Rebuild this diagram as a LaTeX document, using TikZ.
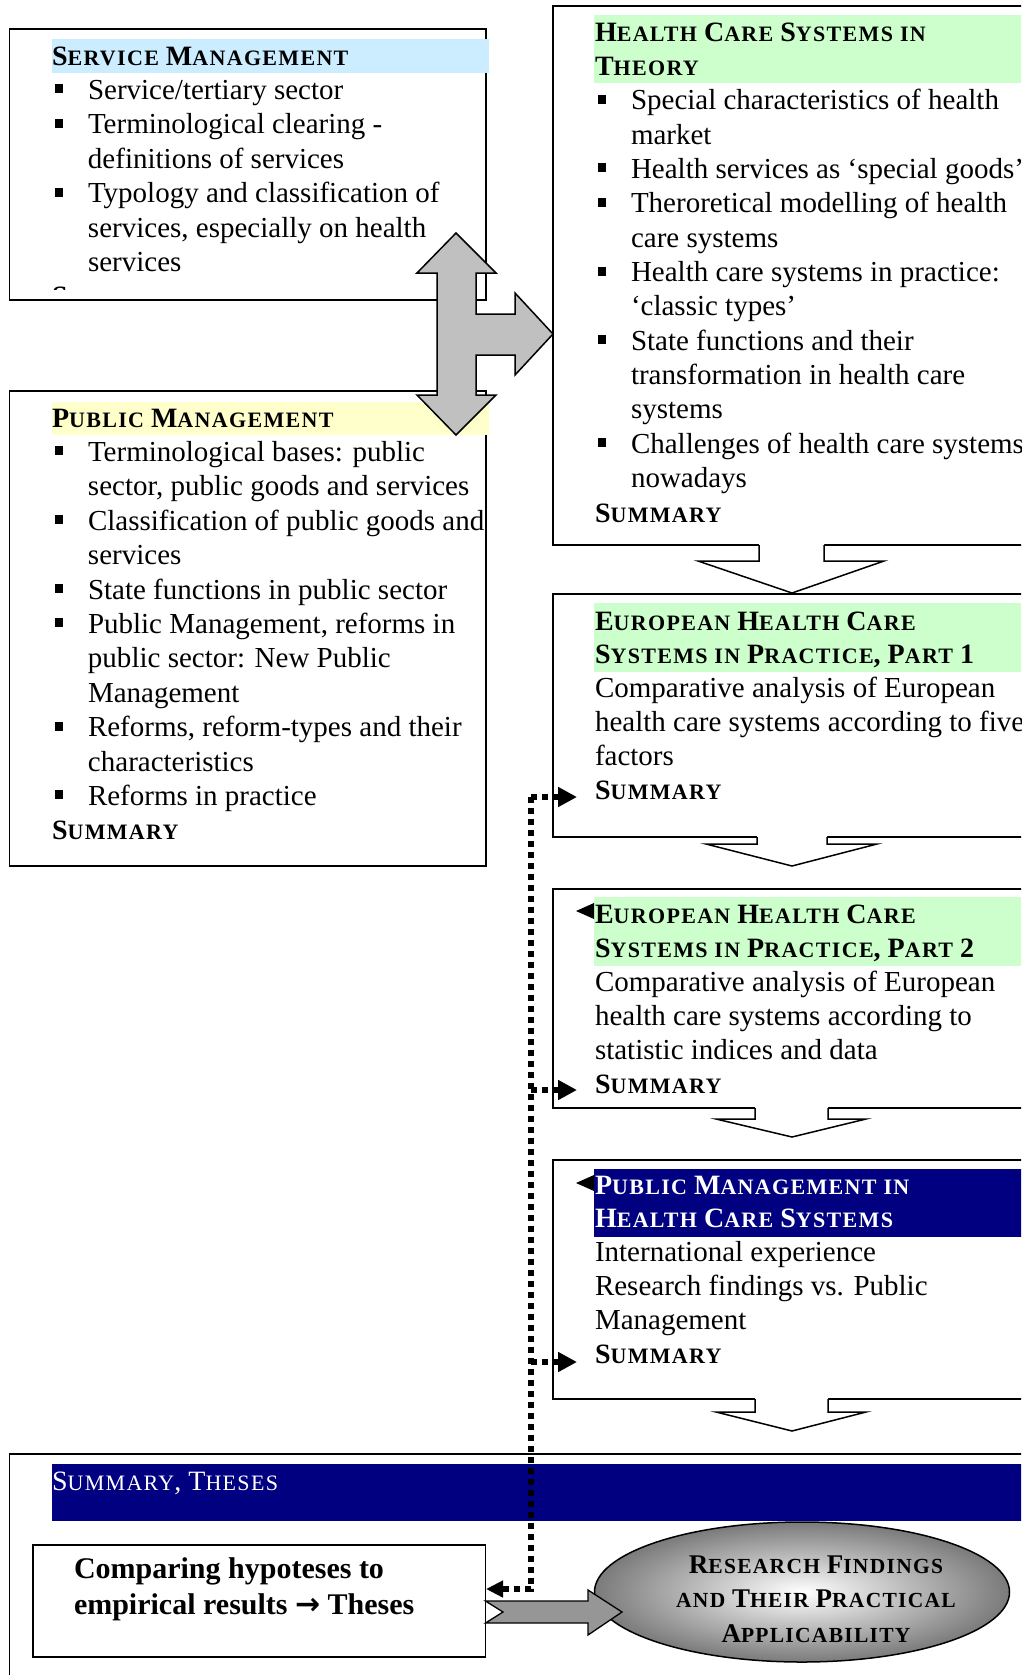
\documentclass[tikz,border=0pt]{standalone}
\usepackage{fontspec}
\setmainfont{Liberation Serif}
\newfontfamily\symfont{DejaVu Sans}
\usetikzlibrary{shapes.geometric,arrows.meta,calc}

\definecolor{hblue}{HTML}{CCECFF}
\definecolor{hgreen}{HTML}{CCFFCC}
\definecolor{hyellow}{HTML}{FFFFCC}
\definecolor{navyband}{HTML}{000080}
\definecolor{crossgray}{HTML}{C0C0C0}
\definecolor{arrgray}{HTML}{969696}

\newcommand\sC[1]{{\fontsize{22}{0}\selectfont\addfontfeature{LetterSpace=6}#1}}
\newcommand\hd[1]{{\bfseries\fontsize{28}{0}\selectfont #1}}
\newcommand\hdr[1]{{\fontsize{28}{0}\selectfont #1}}
\newcommand\bl{\makebox[36pt][l]{\hspace{3pt}\rule[6pt]{8pt}{9pt}}}
\newcommand\ind{\makebox[36pt]{}}
\newcommand\fst{\rule{0pt}{24pt}}

\tikzset{
  tbox/.style={draw, line width=1.8pt, rectangle, inner sep=0pt, outer sep=0pt, anchor=north west},
  txt/.style={anchor=north west, inner sep=0pt, outer sep=0pt, align=left},
  arrline/.style={line width=1.5pt, line join=miter},
  dotline/.style={line width=5.5pt, dash pattern=on 6pt off 5pt},
}

\begin{document}
\begin{tikzpicture}[x=1pt,y=-1pt]
\useasboundingbox (0,0) rectangle (1021,1675);
\fill[white] (0,0) rectangle (1021,1675);
\clip (0,0) rectangle (1021,1675);

% ---------- boxes ----------
\node[tbox, minimum width=476.5pt, minimum height=271pt] (service) at (9.5,29) {};
\node[tbox, minimum width=476.5pt, minimum height=475pt] (public) at (9.5,391) {};
\node[tbox, minimum width=478pt, minimum height=539pt] (theory) at (553,6) {};
\node[tbox, minimum width=478pt, minimum height=243pt] (eu1) at (553,594) {};
\node[tbox, minimum width=478pt, minimum height=219pt] (eu2) at (553,889) {};
\node[tbox, minimum width=478pt, minimum height=239pt] (pmhcs) at (553,1160) {};
\node[tbox, minimum width=1021.5pt, minimum height=240pt] (summ) at (9.5,1454) {};
\node[tbox, line width=1.5pt, minimum width=452.5pt, minimum height=112pt] (cmp) at (33,1545) {};

% ---------- header bands ----------
\fill[hblue] (52,39) rectangle (489,73);
\fill[hyellow] (52,402) rectangle (489,435);
\fill[hgreen] (594,15) rectangle (1031,83);
\fill[hgreen] (594,603) rectangle (1031,672);
\fill[hgreen] (594,897) rectangle (1031,966);
\fill[navyband] (594,1169) rectangle (1031,1237);
\fill[navyband] (52,1464) rectangle (1031,1521);

% ---------- texts ----------
\begin{scope}
\clip (0,0) rectangle (500,289.5);
\node[txt, font=\fontsize{29}{34.4}\selectfont] (servicetxt) at (52,41) {%
\fst\hd{S\sC{ERVICE} M\sC{ANAGEMENT}}\\
\bl Service/tertiary sector\\
\bl Terminological clearing -\\
\ind definitions of services\\
\bl Typology and classification of\\
\ind services, especially on health\\
\ind services\\
\hd{S\sC{UMMARY}}};
\end{scope}

\node[txt, font=\fontsize{29}{34.4}\selectfont] (publictxt) at (52,403) {%
\fst\hd{P\sC{UBLIC} M\sC{ANAGEMENT}}\\
\bl Terminological bases: public\\
\ind sector, public goods and services\\
\bl Classification of public goods and\\
\ind services\\
\bl State functions in public sector\\
\bl Public Management, reforms in\\
\ind public sector: New Public\\
\ind Management\\
\bl Reforms, reform-types and their\\
\ind characteristics\\
\bl Reforms in practice\\
\hd{S\sC{UMMARY}}};

\node[txt, font=\fontsize{29}{34.36}\selectfont] (theorytxt) at (595,17) {%
\fst\hd{H\sC{EALTH} C\sC{ARE} S\sC{YSTEMS} \sC{IN}}\\
\hd{T\sC{HEORY}}\\
\bl Special characteristics of health\\
\ind market\\
\bl Health services as ‘special goods’\\
\bl Theroretical modelling of health\\
\ind care systems\\
\bl Health care systems in practice:\\
\ind ‘classic types’\\
\bl State functions and their\\
\ind transformation in health care\\
\ind systems\\
\bl Challenges of health care systems\\
\ind nowadays\\
\hd{S\sC{UMMARY}}};

\node[txt, font=\fontsize{29}{33.8}\selectfont] (eu1txt) at (595,606) {%
\fst\hd{E\sC{UROPEAN} H\sC{EALTH} C\sC{ARE}}\\
\hd{S\sC{YSTEMS IN} P\sC{RACTICE}, P\sC{ART} 1}\\
Comparative analysis of European\\
health care systems according to five\\
factors\\
\hd{S\sC{UMMARY}}};

\node[txt, font=\fontsize{29}{34}\selectfont] (eu2txt) at (595,899) {%
\fst\hd{E\sC{UROPEAN} H\sC{EALTH} C\sC{ARE}}\\
\hd{S\sC{YSTEMS IN} P\sC{RACTICE}, P\sC{ART} 2}\\
Comparative analysis of European\\
health care systems according to\\
statistic indices and data\\
\hd{S\sC{UMMARY}}};

\node[txt, font=\fontsize{29}{33.8}\selectfont] (pmhcstxt) at (595,1170) {%
\fst\textcolor{white}{\hd{P\sC{UBLIC} M\sC{ANAGEMENT} \sC{IN}}}\\
\textcolor{white}{\hd{H\sC{EALTH} C\sC{ARE} S\sC{YSTEMS}}}\\
International experience\\
Research findings vs. Public\\
Management\\
\hd{S\sC{UMMARY}}};

\node[txt, text=white, font=\fontsize{29}{34}\selectfont] (summtxt) at (52,1466) {%
\fst\hdr{S\sC{UMMARY}, T\sC{HESES}}};

\node[txt, font=\bfseries\fontsize{30}{36.7}\selectfont] (cmptxt) at (74,1554) {%
\fst Comparing hypoteses to\\
empirical results {\symfont\bfseries\fontsize{30}{0}\selectfont →} Theses};

% ---------- white block arrows between right boxes ----------
\begin{scope}[shift={(theory.south)}]
\fill[white] (-33,-2) -- (-33,16) -- (-94,16) -- (0,48) -- (92,16) -- (32,16) -- (32,-2) -- cycle;
\draw[arrline] (-33,0) -- (-33,16) -- (-94,16) -- (0,48) -- (92,16) -- (32,16) -- (32,0);
\end{scope}
\begin{scope}[shift={(eu1.south)}]
\fill[white] (-35,-2) -- (-35,7) -- (-86,7) -- (0,29) -- (85,7) -- (35,7) -- (35,-2) -- cycle;
\draw[arrline] (-35,0) -- (-35,7) -- (-86,7) -- (0,29) -- (85,7) -- (35,7) -- (35,0);
\end{scope}
\begin{scope}[shift={(eu2.south)}]
\fill[white] (-37,-2) -- (-37,11) -- (-76,11) -- (0,29) -- (74,11) -- (36,11) -- (36,-2) -- cycle;
\draw[arrline] (-37,0) -- (-37,11) -- (-76,11) -- (0,29) -- (74,11) -- (36,11) -- (36,0);
\end{scope}
\begin{scope}[shift={(pmhcs.south)}]
\fill[white] (-37,-2) -- (-37,13) -- (-76,13) -- (0,32) -- (74,13) -- (36,13) -- (36,-2) -- cycle;
\draw[arrline] (-37,0) -- (-37,13) -- (-76,13) -- (0,32) -- (74,13) -- (36,13) -- (36,0);
\end{scope}

% ---------- cross arrow ----------
\filldraw[fill=crossgray, line width=1.5pt, line join=miter]
 (456,233) -- (496,273) -- (476,273) -- (476,314) -- (515,314) -- (515,293) -- (553,334)
 -- (515,375) -- (515,355) -- (476,355) -- (476,395) -- (496,395) -- (456,435)
 -- (417,395) -- (437,395) -- (437,273) -- (417,273) -- cycle;

% ---------- small left arrowheads at headers ----------
\fill (594,903) -- (576,911) -- (594,919) -- cycle;
\fill (594,1175) -- (576,1183) -- (594,1191) -- cycle;

% ---------- dotted connectors ----------
\coordinate (j1) at (531,797);
\coordinate (j2) at (531,1090);
\coordinate (j3) at (531,1362);
\coordinate (jb) at (531,1589);
\coordinate (sum1) at (577,797);
\coordinate (sum2) at (577,1090);
\coordinate (sum3) at (577,1362);
\coordinate (cin) at (486,1589);
\draw[dotline, -{Triangle[length=17pt,width=16pt]}] (j1) -- (jb) -- (cin);
\draw[dotline, -{Triangle[length=19pt,width=19pt]}] (j1) -- (sum1);
\draw[dotline, -{Triangle[length=19pt,width=19pt]}] (j2) -- (sum2);
\draw[dotline, -{Triangle[length=19pt,width=19pt]}] (j3) -- (sum3);

% ---------- ellipse ----------
\node[ellipse, draw, line width=1.5pt, minimum width=415pt, minimum height=140pt,
      inner color=white, outer color=black!52, shading=radial] (res) at (802,1592) {};
\node[anchor=north, inner sep=0pt, align=center, font=\fontsize{27}{34.5}\selectfont] (restxt) at (816,1549) {%
\fst{\bfseries\fontsize{27}{0}\selectfont R{\fontsize{21.5}{0}\selectfont\addfontfeature{LetterSpace=6}ESEARCH} F{\fontsize{21.5}{0}\selectfont\addfontfeature{LetterSpace=6}INDINGS}}\\
{\bfseries\fontsize{27}{0}\selectfont {\fontsize{21.5}{0}\selectfont\addfontfeature{LetterSpace=6}AND} T{\fontsize{21.5}{0}\selectfont\addfontfeature{LetterSpace=6}HEIR} P{\fontsize{21.5}{0}\selectfont\addfontfeature{LetterSpace=6}RACTICAL}}\\
{\bfseries\fontsize{27}{0}\selectfont A{\fontsize{21.5}{0}\selectfont\addfontfeature{LetterSpace=6}PPLICABILITY}}};

% ---------- gray notched arrow ----------
\filldraw[fill=arrgray, line width=1.3pt, line join=miter]
 (cmp.east |- 0,1601) -- (588,1601) -- (588,1590) -- (622,1612) -- (588,1635) -- (588,1623)
 -- (cmp.east |- 0,1623) -- (503,1612) -- cycle;

\end{tikzpicture}
\end{document}
